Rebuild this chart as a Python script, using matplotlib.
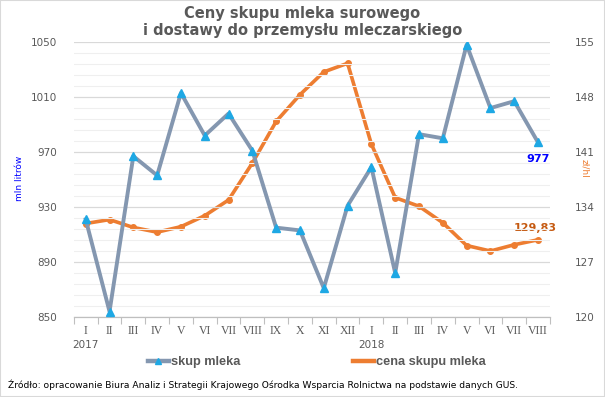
import numpy as np
import matplotlib.pyplot as plt
from matplotlib.ticker import FixedLocator
from matplotlib.lines import Line2D
from matplotlib.patches import Rectangle

# Month labels (Jan 2017 - Aug 2018)
months = ['I', 'II', 'III', 'IV', 'V', 'VI', 'VII', 'VIII', 'IX', 'X', 'XI', 'XII',
          'I', 'II', 'III', 'IV', 'V', 'VI', 'VII', 'VIII']
years = ['2017', '2018']

# skup mleka (left axis)
skup = [921, 854, 967, 953, 1013, 982, 998, 971, 915, 913, 871, 931,
        959, 882, 983, 980, 1048, 1002, 1007, 977]
# cena skupu mleka (right axis)
cena = [131.9, 132.4, 131.4, 130.8, 131.5, 132.9, 134.9, 139.6, 144.9, 148.3, 151.2, 152.3,
        142.0, 135.2, 134.1, 132.0, 129.1, 128.4, 129.2, 129.83]

left_ticks = [850, 890, 930, 970, 1010, 1050]
right_ticks = [120, 127, 134, 141, 148, 155]

grey = '#8497b0'
tri = '#1ea8e4'
orange = '#ed7d31'
txt = '#595959'

fig = plt.figure(figsize=(6.05, 3.97), dpi=100)
ax = fig.add_axes([0.122, 0.2015, 0.787, 0.6925])
ax2 = ax.twinx()

x = np.arange(len(months))

# grid
ax.set_ylim(850, 1050)
ax.yaxis.set_major_locator(FixedLocator(left_ticks))
ax.yaxis.set_minor_locator(FixedLocator(np.arange(850, 1051, 8)))
ax.grid(axis='y', which='major', color='#d9d9d9', lw=0.9)
ax.grid(axis='y', which='minor', color='#efefef', lw=0.8)
ax.set_axisbelow(True)

ax2.set_ylim(120, 155)
ax2.set_yticks(right_ticks)

ax.set_zorder(2)
ax.patch.set_visible(False)

ax2.plot(x, cena, color=orange, lw=2.6, marker='o', ms=4, mfc=orange, mec=orange, zorder=3)
ax.plot(x, skup, color=grey, lw=2.8, marker='^', ms=5.5, mfc=tri, mec=tri, zorder=4)

ax.set_xlim(-0.5, len(months) - 0.5)
ax.set_xticks(np.arange(len(months) + 1) - 0.5)
ax.set_xticklabels([])
ax.tick_params(axis='x', which='major', length=5, color='#bfbfbf', width=0.8)
for i, m in enumerate(months):
    ax.text(i, -0.03, m, transform=ax.get_xaxis_transform(), ha='center', va='top',
            fontsize=8.5, family='Liberation Serif', color=txt)
for i, yr in zip([0, 12], years):
    ax.text(i, -0.085, yr, transform=ax.get_xaxis_transform(), ha='center', va='top',
            fontsize=7.5, color=txt)

for a in (ax, ax2):
    for s in ('top', 'left', 'right'):
        a.spines[s].set_visible(False)
    a.spines['bottom'].set_color('#bfbfbf')
    a.tick_params(axis='y', which='both', length=0, labelsize=7.5, labelcolor=txt, pad=12)
ax2.tick_params(axis='y', pad=18)

# data labels
ax.annotate('977', (x[-1], skup[-1]), xytext=(0, -8), textcoords='offset points',
            ha='center', va='top', color='#0000ff', fontsize=8, fontweight='bold')
ax2.annotate('129,83', (x[-1], cena[-1]), xytext=(-2, 5), textcoords='offset points',
             ha='center', va='bottom', color='#c55a11', fontsize=8, fontweight='bold')

# axis titles (rotated)
fig.text(0.033, 0.55, 'mln litrów', rotation=90, ha='center', va='center',
         color='#0000ff', fontsize=6.5)
fig.text(0.967, 0.575, 'zł/hl', rotation=270, ha='center', va='center',
         color=orange, fontsize=6.5)

fig.text(0.5, 0.985, 'Ceny skupu mleka surowego\ni dostawy do przemysłu mleczarskiego',
         ha='center', va='top', fontsize=10.5, fontweight='bold', color=txt,
         linespacing=1.15)

# legend: two entries placed separately
h_skup = Line2D([], [], color=grey, lw=3.2, marker='^', ms=5, mfc=tri, mec=tri)
h_cena = Line2D([], [], color=orange, lw=3.2)
leg_font = {'size': 9.2, 'weight': 'bold', 'family': 'Liberation Sans'}
for h, lab, xa in [(h_skup, 'skup mleka', 0.245), (h_cena, 'cena skupu mleka', 0.584)]:
    fig.legend([h], [lab], loc='center left', bbox_to_anchor=(xa, 0.088),
               frameon=False, handlelength=1.6, handletextpad=0.2,
               borderpad=0, borderaxespad=0, prop=leg_font, labelcolor=txt)

fig.text(0.013, 0.03, 'Źródło: opracowanie Biura Analiz i Strategii Krajowego Ośrodka '
         'Wsparcia Rolnictwa na podstawie danych GUS.',
         ha='left', va='center', fontsize=6.6, color='black')

fig.patches.append(Rectangle((0, 0), 1, 1, transform=fig.transFigure, fill=False,
                             edgecolor='#d9d9d9', lw=1.5))

fig.savefig('out.png', dpi=100)
